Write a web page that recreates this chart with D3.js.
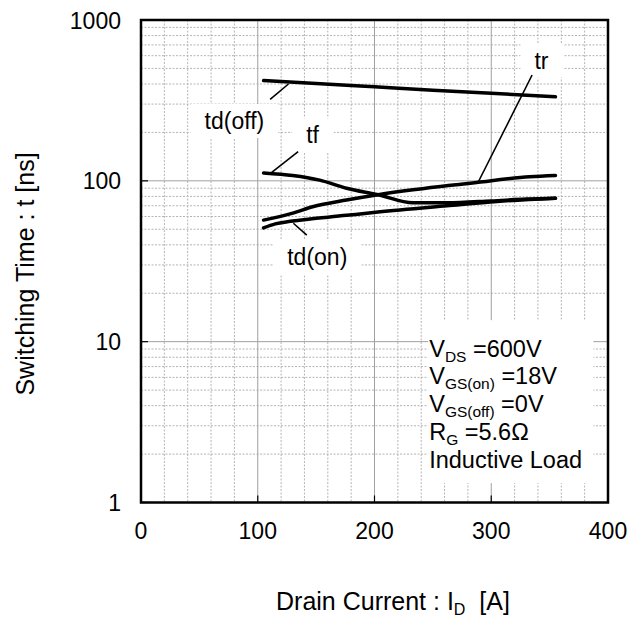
<!DOCTYPE html>
<html>
<head>
<meta charset="utf-8">
<script src="https://cdn.jsdelivr.net/npm/d3@7"></script>
<style>
body { margin: 0; background: #fff; }
text { font-family: "Liberation Sans", Arial, sans-serif; fill: #000; }
</style>
</head>
<body>
<div id="chart"></div>
<script>
// drain current [A] and switching time [ns]
var tdOffCurrent = [105, 150, 200, 250, 300, 355];
var tdOffTime = [420, 403, 384, 366, 350, 333];

var tfCurrent = [105, 130, 153, 176, 203, 233, 262, 300, 330, 355];
var tfTime = [112, 108, 101, 90, 82, 73, 73, 75, 77, 78];

var trCurrent = [105, 130, 147, 176, 203, 233, 260, 276, 289, 333, 355];
var trTime = [57, 63, 69, 76, 82, 88, 93, 95.5, 98, 106, 108];

var tdOnCurrent = [105, 115, 128, 176, 203, 262, 305, 355];
var tdOnTime = [51, 54, 56, 61, 64, 70, 74.5, 78];

// curve names, where they sit and the leader line to the curve
var curveLabels = ["td(off)", "tf", "tr", "td(on)"];
var labelCurrent = [80, 147, 343, 151];
var labelTime = [210, 171, 499, 30];
var leaderFrom = [[110.6, 321], [112, 113], [289, 98.7], [130.5, 54.5]];
var leaderTo = [[126.3, 400], [134.6, 152], [335, 455], [142, 46]];

var xTicks = [0, 100, 200, 300, 400];
var yTicks = [1, 10, 100, 1000];

// test conditions, "s" parts are subscripts
var conditions = [
    [["V"], ["DS", "s"], [" =600V"]],
    [["V"], ["GS(on)", "s"], [" =18V"]],
    [["V"], ["GS(off)", "s"], [" =0V"]],
    [["R"], ["G", "s"], [" =5.6\u03A9"]],
    [["Inductive Load"]]
];

var width = 637, height = 619;
var plotLeft = 141, plotRight = 608, plotTop = 20, plotBottom = 502.5;

var svg = d3.select("#chart").append("svg")
    .attr("width", width)
    .attr("height", height);

var x = d3.scaleLinear().domain([0, 400]).range([plotLeft, plotRight]);
var y = d3.scaleLog().domain([1, 1000]).range([plotBottom, plotTop]);

//grid: dotted minor lines, solid gray at the major values
var g = svg.append("g");
var minorX = d3.range(20, 400, 20).filter(function(v) { return v % 100 != 0; });
var minorY = [];
[1, 10, 100].forEach(function(dec) {
    for (var k = 2; k <= 9; k++) minorY.push(dec * k);
});

g.selectAll(".mx").data(minorX).enter().append("line")
    .attr("x1", function(d) { return x(d); }).attr("x2", function(d) { return x(d); })
    .attr("y1", plotTop).attr("y2", plotBottom)
    .attr("stroke", "#b4b4b4").attr("stroke-dasharray", "2,1.5");
g.selectAll(".my").data(minorY).enter().append("line")
    .attr("y1", function(d) { return y(d); }).attr("y2", function(d) { return y(d); })
    .attr("x1", plotLeft).attr("x2", plotRight)
    .attr("stroke", "#b4b4b4").attr("stroke-dasharray", "2,1.5");
g.selectAll(".Mx").data(xTicks.slice(1, -1)).enter().append("line")
    .attr("x1", function(d) { return x(d); }).attr("x2", function(d) { return x(d); })
    .attr("y1", plotTop).attr("y2", plotBottom)
    .attr("stroke", "#a0a0a0");
g.selectAll(".My").data(yTicks.slice(1, -1)).enter().append("line")
    .attr("y1", function(d) { return y(d); }).attr("y2", function(d) { return y(d); })
    .attr("x1", plotLeft).attr("x2", plotRight)
    .attr("stroke", "#a0a0a0");

// white box behind the test conditions
svg.append("rect")
    .attr("x", x(246)).attr("y", y(13.6))
    .attr("width", x(387.5) - x(246)).attr("height", y(1.32) - y(13.6))
    .attr("fill", "#fff");

// curve labels, on white patches that hide the grid
var labelG = svg.append("g");
curveLabels.forEach(function(name, i) {
    var t = labelG.append("text")
        .attr("x", x(labelCurrent[i]))
        .attr("y", y(labelTime[i]))
        .attr("text-anchor", "middle")
        .attr("font-size", 23)
        .text(name);
    var b = t.node().getBBox();
    labelG.insert("rect", "text")
        .attr("x", b.x - 14).attr("y", b.y - 4)
        .attr("width", b.width + 28).attr("height", b.height + 8)
        .attr("fill", "#fff");
});

// axis ticks pointing inwards
svg.selectAll(".tx").data(xTicks).enter().append("line")
    .attr("x1", function(d) { return x(d); }).attr("x2", function(d) { return x(d); })
    .attr("y1", plotBottom).attr("y2", plotBottom - 7)
    .attr("stroke", "#000").attr("stroke-width", 1.2);
svg.selectAll(".ty").data(yTicks).enter().append("line")
    .attr("y1", function(d) { return y(d); }).attr("y2", function(d) { return y(d); })
    .attr("x1", plotLeft).attr("x2", plotLeft + 7)
    .attr("stroke", "#000").attr("stroke-width", 1.2);

// the four curves
var line = d3.line()
    .x(function(d) { return x(d[0]); })
    .y(function(d) { return y(d[1]); })
    .curve(d3.curveMonotoneX);

[[tdOffCurrent, tdOffTime], [tfCurrent, tfTime], [trCurrent, trTime], [tdOnCurrent, tdOnTime]]
    .forEach(function(s) {
        svg.append("path")
            .datum(d3.zip(s[0], s[1]))
            .attr("d", line)
            .attr("fill", "none")
            .attr("stroke", "#000")
            .attr("stroke-width", 3.5)
            .attr("stroke-linecap", "round");
    });

svg.selectAll(".leader").data(leaderFrom).enter().append("line")
    .attr("x1", function(d) { return x(d[0]); })
    .attr("y1", function(d) { return y(d[1]); })
    .attr("x2", function(d, i) { return x(leaderTo[i][0]); })
    .attr("y2", function(d, i) { return y(leaderTo[i][1]); })
    .attr("stroke", "#000").attr("stroke-width", 1.6);

// test condition text
var condX = x(246) + 1;
conditions.forEach(function(parts, i) {
    var t = svg.append("text")
        .attr("x", condX)
        .attr("y", 356.5 + i * 27.9)
        .attr("font-size", 23.5)
        .style("white-space", "pre");
    var shifted = false;
    parts.forEach(function(p) {
        var sp = t.append("tspan").text(p[0]);
        if (p[1] == "s") {
            sp.attr("font-size", 15.5).attr("dy", 5);
            shifted = true;
        } else if (shifted) {
            sp.attr("dy", -5);
            shifted = false;
        }
    });
});

// frame
svg.append("rect")
    .attr("x", plotLeft).attr("y", plotTop)
    .attr("width", plotRight - plotLeft).attr("height", plotBottom - plotTop)
    .attr("fill", "none").attr("stroke", "#000").attr("stroke-width", 2.5);

// tick labels
svg.selectAll(".xl").data(xTicks).enter().append("text")
    .attr("x", function(d) { return x(d); })
    .attr("y", 539)
    .attr("text-anchor", "middle")
    .attr("font-size", 23)
    .text(function(d) { return d; });
svg.selectAll(".yl").data(yTicks).enter().append("text")
    .attr("x", plotLeft - 20)
    .attr("y", function(d) { return y(d) + 8.5; })
    .attr("text-anchor", "end")
    .attr("font-size", 23)
    .text(function(d) { return d; });

// axis titles
var xt = svg.append("text")
    .attr("x", 276).attr("y", 610)
    .attr("font-size", 25)
    .style("white-space", "pre");
xt.append("tspan").text("Drain Current : I");
xt.append("tspan").text("D").attr("font-size", 16).attr("dy", 5);
xt.append("tspan").text("  [A]").attr("dy", -5);

svg.append("text")
    .attr("transform", "translate(34," + 274 + ") rotate(-90)")
    .attr("text-anchor", "middle")
    .attr("font-size", 25)
    .text("Switching Time : t [ns]");
</script>
</body>
</html>
